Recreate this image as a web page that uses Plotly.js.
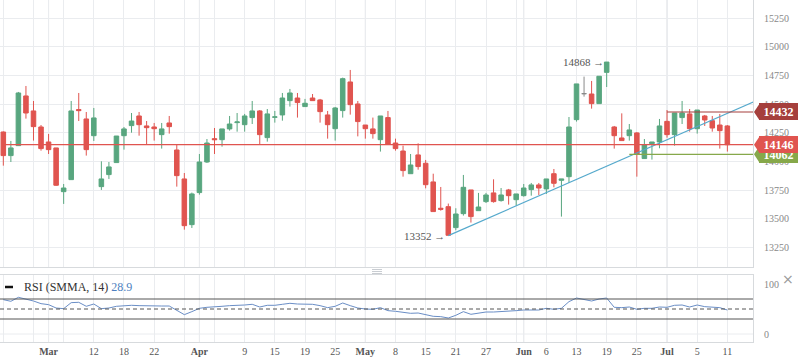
<!DOCTYPE html>
<html><head><meta charset="utf-8">
<script src="https://cdn.plot.ly/plotly-3.0.1.min.js"></script>
<style>html,body{margin:0;padding:0;background:#fff}#chart{width:798px;height:363px}</style>
</head><body><div id="chart"></div>
<script>
// ---- data ----
const open = [14257,14051,14138,14572,14441,14301,14170,14118,13736,13841,
14453,14371,14225,13780,13885,13990,14225,14313,14397,14310,
14301,14234,14336,14100,13847,13448,13728,13995,14199,14190,
14284,14339,14321,14383,14441,14208,14386,14406,14531,14554,
14479,14554,14537,14406,14286,14444,14694,14502,14318,14284,
14190,14383,14161,14091,13893,14057,13984,13821,13591,13605,
13422,13544,13751,13570,13649,13725,13658,13751,13666,13701,
13754,13795,13760,13893,13835,13867,14365,14592,14589,14505,
14778,14301,14205,14225,14249,14025,14155,14170,14350,14234,
14383,14415,14286,14397,14356,14318,14310];
const high = [14262,14179,14607,14659,14528,14318,14240,14118,13803,14528,
14598,14432,14467,14001,13995,14222,14301,14423,14432,14353,
14336,14336,14397,14150,13899,13728,14065,14196,14292,14284,
14397,14423,14415,14528,14449,14458,14441,14598,14633,14598,
14546,14589,14546,14441,14476,14732,14799,14528,14318,14383,
14397,14441,14199,14138,14065,14158,14013,13893,13777,13632,
13591,13882,13751,13725,13725,13844,13768,13760,13716,13803,
13812,13812,13847,13934,13847,14388,14677,14741,14703,14744,
14868,14310,14420,14327,14257,14196,14170,14371,14449,14423,
14528,14458,14449,14406,14397,14415,14318];
const low = [13963,13995,14138,14374,14182,14094,14065,13786,13629,13841,
14353,14051,14179,13751,13847,13990,14103,14251,14225,14150,
14182,14112,14243,13780,13404,13419,13710,13987,14065,14129,
14269,14260,14260,14327,14150,14173,14339,14356,14479,14383,
14479,14531,14339,14199,14182,14383,14409,14219,14199,14199,
14086,14150,14094,13867,13893,13928,13765,13562,13570,13352,
13399,13527,13466,13570,13637,13640,13649,13623,13614,13693,
13701,13707,13716,13774,13518,13812,14348,14566,14461,14505,
14650,14112,14182,14182,13867,14025,14016,14115,14208,14138,
14327,14260,14243,14310,14260,14112,14086];
const close = [14051,14118,14598,14423,14304,14112,14103,13792,13768,14441,
14444,14103,14380,13847,13952,14222,14284,14353,14321,14295,
14286,14284,14304,13876,13439,13716,13995,14161,14190,14284,
14327,14345,14397,14441,14234,14415,14389,14554,14598,14514,
14508,14531,14435,14321,14467,14723,14496,14348,14286,14243,
14397,14150,14112,13920,13969,13955,13797,13562,13582,13355,
13541,13774,13518,13602,13707,13649,13707,13701,13716,13768,
13795,13768,13847,13809,13847,14301,14677,14592,14505,14744,
14868,14225,14182,14275,14065,14147,14170,14310,14234,14423,
14423,14286,14449,14362,14292,14269,14146];
const rsi = [68.7,65.4,73.4,70,66,60.7,58.7,52,50.7,62.7,
63.4,55.4,60,50.7,52,55.4,56.7,57.4,56.7,56,
56,56,56,48,38.7,44.7,51.4,53.4,54,55.4,
56.7,56.7,58,59.4,54,57.4,57.4,59.4,61.4,60,
59.4,59.4,56.7,52.7,55.4,62,56.7,52,50,49.4,
52.7,46.7,45.4,42.7,41.4,42,39.4,35.4,34.7,32,
37.4,44.7,39.4,42,44,44,45.4,46,46.7,48,
48,48,51.4,49.4,51.4,64.7,72,69.4,66,70,
72,53.4,52.7,54,49.4,51.4,51.4,54,53.4,57.4,
58,54,58,54.7,53.4,52.7,48];
const rsiLabel = 'RSI (SMMA, 14)';
const rsiValueText = '28.9';
const rsiLevels = [70, 50, 30];

// x-axis ticks (candle positions) and their labels
const tickIdx  = [0,4,6,8,12,16,20,24,26,28,32,36,40,44,48,52,56,60,64,68,69,72,76,80,84,88,92,96];
const tickText = ['','','Mar','','12','18','22','','Apr','','9','15','19','25','May','8','15','21','27','','Jun','6','13','19','25','Jul','5','11'];
const monthIdx = [6,26,48,69,88];
const priceTicks = [13250,13500,13750,14000,14250,14500,14750,15000,15250];
const priceTickText = ['13250','13500','13750','14000','14250','14500','14750','15000','15250'];
const rsiTicks = [0,100];
const rsiTickText = ['0','100'];

// drawn levels and trend line
const levelValues = [14432, 14062, 14146];
const levelStart  = [88, 83, 0];
const levelColors = ['#a53f3c', '#86a84a', '#e0544f'];
const trendX = [59, 101];
const trendY = [13352, 14565];

// ---- build ----
const G = '#58a67f', R = '#e0544f', N = '#8a8a8a';
const idx = open.map((_, i) => i);
const flat = idx.map(i => open[i] === close[i]);
const sel = (arr, f) => idx.filter(i => flat[i] === f).map(i => arr[i]);
const xMin = -0.44, xMax = 99.4;

const candle = (f, inc, dec) => ({
  type: 'candlestick', xaxis: 'x', yaxis: 'y',
  x: sel(idx, f), open: sel(open, f), high: sel(high, f), low: sel(low, f), close: sel(close, f),
  increasing: {line: {color: inc, width: 1}, fillcolor: inc},
  decreasing: {line: {color: dec, width: 1}, fillcolor: dec},
  whiskerwidth: 0, hoverinfo: 'skip'
});

const traces = [candle(false, G, R), candle(true, N, N)];
traces.push({type: 'scatter', mode: 'lines', x: trendX, y: trendY, xaxis: 'x', yaxis: 'y',
  line: {color: '#55a9cc', width: 1.2}, hoverinfo: 'skip'});
levelValues.forEach((v, k) => traces.push({type: 'scatter', mode: 'lines', xaxis: 'x', yaxis: 'y',
  x: [levelStart[k], xMax + 2], y: [v, v], line: {color: levelColors[k], width: 1.2}, hoverinfo: 'skip'}));
traces.push({type: 'scatter', mode: 'lines', x: idx, y: rsi, xaxis: 'x2', yaxis: 'y2',
  line: {color: '#6a8ec6', width: 1}, hoverinfo: 'skip'});

const serif = 'Liberation Serif, Times New Roman, serif';
const gridC = '#eaecef', borderC = '#d7dadd';
const shapes = [];
monthIdx.forEach(m => {
  shapes.push({type: 'line', xref: 'x', yref: 'y domain', x0: m, x1: m, y0: 0, y1: 1, layer: 'below', line: {color: '#d9dcdf', width: 1}});
  shapes.push({type: 'line', xref: 'x2', yref: 'y2 domain', x0: m, x1: m, y0: 0, y1: 1, layer: 'below', line: {color: '#d9dcdf', width: 1}});
});
rsiLevels.forEach(v => shapes.push({type: 'line', xref: 'paper', yref: 'y2', x0: 0, x1: 1, y0: v, y1: v,
  line: {color: '#555', width: 1, dash: v === 50 ? '4px,3px' : 'solid'}}));
shapes.push({type: 'line', xref: 'paper', yref: 'y2', x0: 0, x1: 1, y0: rsiTicks[0], y1: rsiTicks[0], layer: 'below', line: {color: gridC, width: 1}});
// tag points of the price labels
levelValues.forEach((v, k) => shapes.push({type: 'path', xref: 'paper', xsizemode: 'pixel', xanchor: 1,
  yref: 'y', ysizemode: 'pixel', yanchor: v, path: 'M 1,0 L 6.5,8.3 L 6.5,-8.3 Z',
  fillcolor: levelColors[k], line: {width: 0}}));
// legend dash and panel handle
shapes.push({type: 'line', xref: 'paper', yref: 'paper', x0: 5/753, x1: 13/753, y0: 1-287/342, y1: 1-287/342, line: {color: '#111', width: 2.5}});
[269.5, 271.5, 273.5].forEach(py => shapes.push({type: 'line', xref: 'paper', yref: 'paper', x0: 372/753, x1: 382/753, y0: 1-py/342, y1: 1-py/342, line: {color: '#c9cdd2', width: 1}}));

const annotations = [];
levelValues.forEach((v, k) => annotations.push({xref: 'paper', yref: 'y', x: 1, y: v, xanchor: 'left', yanchor: 'middle',
  xshift: 6, text: '<b>' + v + '</b>', showarrow: false, bgcolor: levelColors[k], width: 39, height: 17,
  borderpad: 0, borderwidth: 0, font: {family: serif, size: 12, color: '#fff'}}));
let hiI = 0, loI = 0;
idx.forEach(i => { if (high[i] > high[hiI]) hiI = i; if (low[i] < low[loI]) loI = i; });
annotations.push({x: hiI, y: high[hiI], xref: 'x', yref: 'y', xanchor: 'right', yanchor: 'middle', xshift: -1,
  text: high[hiI] + ' →', showarrow: false, font: {family: serif, size: 11, color: '#555'}});
annotations.push({x: loI, y: low[loI], xref: 'x', yref: 'y', xanchor: 'right', yanchor: 'middle', xshift: -1,
  text: low[loI] + ' →', showarrow: false, font: {family: serif, size: 11, color: '#555'}});
annotations.push({xref: 'paper', yref: 'paper', x: 22/753, y: 1-287/342, xanchor: 'left', yanchor: 'middle',
  text: rsiLabel + ' <span style="color:#4d7fc0">' + rsiValueText + '</span>', showarrow: false,
  font: {family: serif, size: 12, color: '#333'}});
annotations.push({xref: 'paper', yref: 'paper', x: 788/753, y: 1-279/342, xanchor: 'center', yanchor: 'middle',
  text: '×', showarrow: false, font: {family: 'DejaVu Sans, sans-serif', size: 14, color: '#999'}});

const tt = tickText.map(t => /^[A-Z]/.test(t) ? '<b>' + t + '</b>' : t);
const layout = {
  width: 798, height: 363,
  margin: {l: 0, r: 45, t: 0, b: 21, pad: 0},
  paper_bgcolor: '#fff', plot_bgcolor: '#fff',
  showlegend: false, dragmode: false,
  boxgap: 0.4, boxgroupgap: 0,
  font: {family: serif, size: 10, color: '#666'},
  xaxis: {domain: [0, 1], anchor: 'y', range: [xMin, xMax], tickmode: 'array', tickvals: tickIdx, ticktext: tt,
    showticklabels: false, showgrid: true, gridcolor: gridC, zeroline: false, showline: true, linecolor: borderC,
    ticks: '', rangeslider: {visible: false}, fixedrange: true},
  xaxis2: {domain: [0, 1], anchor: 'y2', range: [xMin, xMax], tickmode: 'array', tickvals: tickIdx, ticktext: tt,
    showgrid: true, gridcolor: gridC, zeroline: false, showline: true, mirror: true, linecolor: borderC,
    ticks: '', tickfont: {family: serif, size: 10, color: '#555'}, fixedrange: true},
  yaxis: {domain: [1 - 267/342, 1], anchor: 'x', side: 'right', range: [13078, 15410], tickmode: 'array',
    tickvals: priceTicks, ticktext: priceTickText,
    showgrid: true, gridcolor: gridC, zeroline: false, showline: true, linecolor: borderC,
    ticks: 'outside', ticklen: 8, tickcolor: 'rgba(0,0,0,0)', tickfont: {family: serif, size: 10, color: '#888'}, fixedrange: true},
  yaxis2: {domain: [0, 1 - 275/342], anchor: 'x2', side: 'right', range: [-16, 118], tickmode: 'array',
    tickvals: rsiTicks, ticktext: rsiTickText,
    showgrid: false, zeroline: false, showline: true, mirror: true, linecolor: borderC,
    ticks: 'outside', ticklen: 8, tickcolor: 'rgba(0,0,0,0)', tickfont: {family: serif, size: 10, color: '#888'}, fixedrange: true},
  shapes: shapes, annotations: annotations
};
Plotly.newPlot('chart', traces, layout, {displayModeBar: false, staticPlot: true});
</script></body></html>
